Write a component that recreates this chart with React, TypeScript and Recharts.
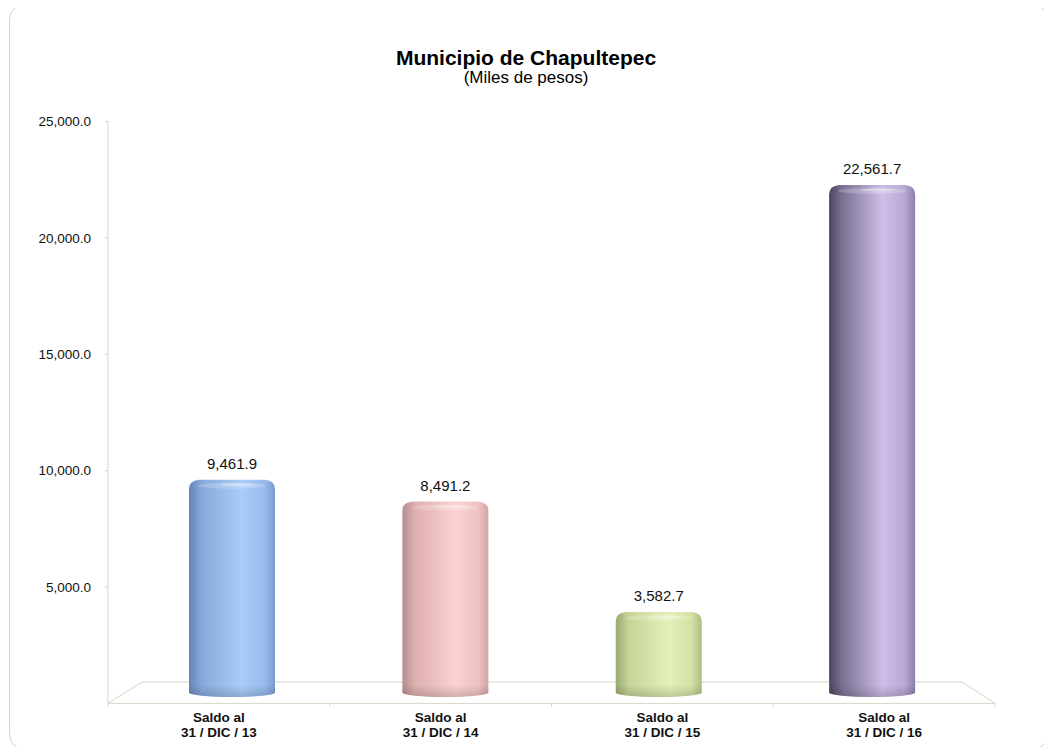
import { BarChart, Bar, XAxis, YAxis, LabelList } from "recharts";

// periodos y saldos (miles de pesos)
const periods = ["31 / DIC / 13", "31 / DIC / 14", "31 / DIC / 15", "31 / DIC / 16"];
const saldos = [9461.9, 8491.2, 3582.7, 22561.7];
const yTicks = [5000, 10000, 15000, 20000, 25000];

// colores de cada cilindro: borde izq, medio, brillo, borde der
const palette = [
    ["#6684b6", "#88aadb", "#a9cdf8", "#97bbec", "#7b9bcf"],
    ["#b48f8f", "#dfb0b0", "#fbd1d1", "#f0c2c2", "#d2a6a6"],
    ["#9aa972", "#c6d498", "#e3f0b9", "#d4e2a6", "#afbe84"],
    ["#4a4460", "#7b7094", "#cebee7", "#b8a8d4", "#8d7eab"],
];

const data = periods.map((p, i) => ({ name: p, saldo: saldos[i] }));

const fmt = (v: number) =>
    v.toLocaleString("en-US", { minimumFractionDigits: 1, maximumFractionDigits: 1 });

const axisColor = "#d6d6c8";

const Cylinder = (props: any) => {
    const { x, y, width, height, index } = props;
    const c = palette[index % palette.length];
    const ry = 4.5;
    const b = y + height;
    const w = width;
    const id = "cyl" + index;
    const d =
        `M${x},${b} L${x},${y + 9} Q${x},${y + 1} ${x + 10},${y} ` +
        `L${x + w - 10},${y} Q${x + w},${y + 1} ${x + w},${y + 9} ` +
        `L${x + w},${b} A${w / 2},${ry} 0 0 1 ${x},${b} Z`;
    return (
        <g>
            <defs>
                <linearGradient id={id + "h"} x1="0" y1="0" x2="1" y2="0">
                    <stop offset="0" stopColor={c[0]} />
                    <stop offset="0.15" stopColor={c[1]} />
                    <stop offset="0.62" stopColor={c[2]} />
                    <stop offset="0.88" stopColor={c[3]} />
                    <stop offset="1" stopColor={c[4]} />
                </linearGradient>
                <linearGradient id={id + "v"} x1="0" y1="0" x2="0" y2="1">
                    <stop offset="0" stopColor="#000" stopOpacity="0" />
                    <stop offset="1" stopColor="#000" stopOpacity="0.16" />
                </linearGradient>
            </defs>
            <path d={d} fill={`url(#${id}h)`} />
            <path
                d={`M${x},${b - 8} L${x + w},${b - 8} L${x + w},${b} A${w / 2},${ry} 0 0 1 ${x},${b} Z`}
                fill={`url(#${id}v)`}
            />
            <ellipse cx={x + w / 2} cy={y + 6} rx={w / 2 - 9} ry={3} fill="#fff" opacity={0.2} />
            <ellipse cx={x + w / 2 + 6} cy={y + 5} rx={w / 5} ry={1.6} fill="#fff" opacity={0.3} />
        </g>
    );
};

const ValueLabel = (props: any) => {
    const { x, y, width, value } = props;
    return (
        <text x={x + width / 2} y={y - 11} textAnchor="middle" fontSize={15} fill="#111"
            fontFamily="Liberation Sans, Arial, sans-serif">
            {fmt(value)}
        </text>
    );
};

const XTick = (props: any) => {
    const { x, y, payload } = props;
    return (
        <text x={x} y={y} textAnchor="middle" fontSize={13.5} fontWeight="bold" fill="#111"
            fontFamily="Liberation Sans, Arial, sans-serif">
            <tspan x={x} dy={19}>Saldo al</tspan>
            <tspan x={x} dy={15}>{payload.value}</tspan>
        </text>
    );
};

export default function App() {
    return (
        <div style={{ position: "relative", width: 1052, height: 755, margin: -8, background: "#fff" }}>
            <svg width={1052} height={755} style={{ position: "absolute", left: 0, top: 0 }}>
                <rect x={9.5} y={4.5} width={1038} height={745} rx={15} fill="#fff" stroke="#d4d4c6" />
                {/* piso en perspectiva */}
                <polyline points="108,703.4 142,682 962,682 995,703.4" fill="none" stroke={axisColor} />
                {[0, 1, 2, 3, 4].map((i) => (
                    <line key={i} x1={108 + i * 221.75} x2={108 + i * 221.75} y1={703.4} y2={707}
                        stroke={axisColor} />
                ))}
            </svg>
            <div style={{ position: "absolute", left: 0, top: 0 }}>
                <BarChart width={1052} height={755} data={data}
                    margin={{ top: 121.5, right: 57, bottom: 11.6, left: 48 }}>
                    <XAxis dataKey="name" height={40} tick={<XTick />} tickLine={false}
                        tickSize={0} tickMargin={0} axisLine={{ stroke: axisColor }} interval={0} />
                    <XAxis xAxisId="b" dataKey="name" hide padding={{ left: 17, right: 16.5 }} />
                    <YAxis width={60} type="number" domain={[0, 25000]} ticks={yTicks}
                        allowDataOverflow tickFormatter={fmt} tickSize={3} tickMargin={14}
                        axisLine={{ stroke: axisColor }} tickLine={{ stroke: axisColor }}
                        tick={{ fill: "#111", fontSize: 13.5, fontFamily: "Liberation Sans, Arial, sans-serif" }} />
                    <YAxis yAxisId="b" hide type="number" domain={[-480, 25382]} allowDataOverflow />
                    <Bar dataKey="saldo" xAxisId="b" yAxisId="b" barSize={86}
                        shape={<Cylinder />} isAnimationActive={false}>
                        <LabelList dataKey="saldo" content={<ValueLabel />} />
                    </Bar>
                </BarChart>
            </div>
            <svg width={1052} height={100} style={{ position: "absolute", left: 0, top: 0, pointerEvents: "none" }}>
                <text x={526} y={65} textAnchor="middle" fontSize={21} fontWeight="bold" fill="#000"
                    fontFamily="Liberation Sans, Arial, sans-serif">Municipio de Chapultepec</text>
                <text x={526} y={83} textAnchor="middle" fontSize={17} fill="#000"
                    fontFamily="Liberation Sans, Arial, sans-serif">(Miles de pesos)</text>
            </svg>
        </div>
    );
}
